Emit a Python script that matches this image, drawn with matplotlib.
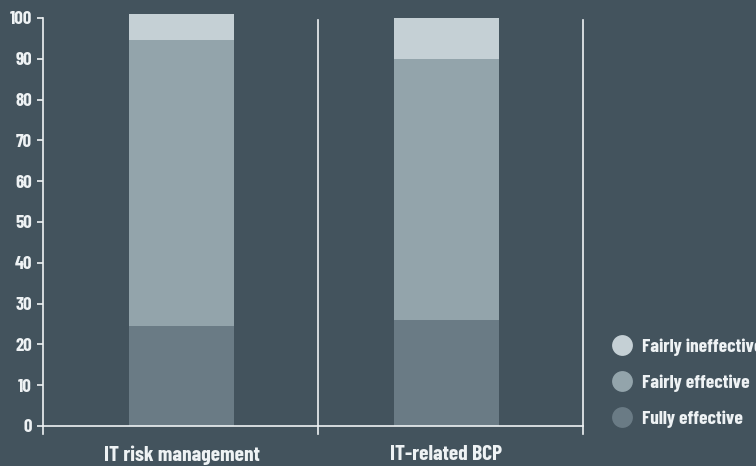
import matplotlib.pyplot as plt
from matplotlib.lines import Line2D
from matplotlib import font_manager

# Survey results (% of respondents)
categories = ["IT risk management", "IT-related BCP"]
fully_effective = [24.5, 26]
fairly_effective = [70, 64]
fairly_ineffective = [6.5, 10]
yticks = list(range(0, 101, 10))
legend_labels = ["Fairly ineffective", "Fairly effective", "Fully effective"]

BG = "#43535d"
FG = "#eef2f4"
colors = {"Fully effective": "#6a7b85",
          "Fairly effective": "#93a4ab",
          "Fairly ineffective": "#c5d0d5"}

names = {f.name for f in font_manager.fontManager.ttflist}
family = next((n for n in ["Barlow Condensed", "Roboto Condensed", "PT Sans Narrow"]
               if n in names), "DejaVu Sans")
plt.rcParams["font.family"] = [family, "DejaVu Sans"]
plt.rcParams["font.weight"] = "bold"

fig = plt.figure(figsize=(7.56, 4.66), dpi=100, facecolor=BG)
ax = fig.add_axes([43 / 756, 40 / 466, 540 / 756, 408 / 466], facecolor=BG)

x = [0.513, 1.494]
w = 0.39
bottom2 = [a + b for a, b in zip(fully_effective, fairly_effective)]
ax.bar(x, fully_effective, w, color=colors["Fully effective"], clip_on=False, zorder=2)
ax.bar(x, fairly_effective, w, bottom=fully_effective,
       color=colors["Fairly effective"], clip_on=False, zorder=2)
ax.bar(x, fairly_ineffective, w, bottom=bottom2,
       color=colors["Fairly ineffective"], clip_on=False, zorder=2)

ax.set_xlim(0, 2)
ax.set_ylim(0, 100)

# category dividers
for xv in [1.0185, 2]:
    ax.plot([xv, xv], [-2, 99.5], color=FG, lw=1.2, clip_on=False, zorder=1)

for s in ["top", "right"]:
    ax.spines[s].set_visible(False)
ax.spines["left"].set_color(FG)
ax.spines["left"].set_linewidth(1.2)
ax.spines["left"].set_bounds(-2, 100)
ax.spines["bottom"].set_color(FG)
ax.spines["bottom"].set_linewidth(1.2)
ax.spines["bottom"].set_zorder(3)

ax.set_yticks(yticks)
ax.set_yticklabels([str(v) for v in yticks], fontsize=13.5, color=FG)
ax.tick_params(axis="y", colors=FG, length=4.5, width=1.2, pad=3.5, labelcolor=FG)
ax.set_xticks(x)
ax.set_xticklabels(categories, fontsize=15.5, color=FG)
ax.tick_params(axis="x", length=0, pad=14, labelcolor=FG)

handles = [Line2D([], [], marker="o", ls="", ms=15, mec="none", color=colors[k])
           for k in legend_labels]
leg = fig.legend(handles, legend_labels,
                 loc="center left", bbox_to_anchor=(610 / 756, 1 - 383 / 466),
                 frameon=False, fontsize=14, labelspacing=0.95, handletextpad=0.45,
                 handlelength=1.2, borderpad=0, borderaxespad=0)
for t in leg.get_texts():
    t.set_color(FG)

fig.savefig("out.png", dpi=100, facecolor=BG)
